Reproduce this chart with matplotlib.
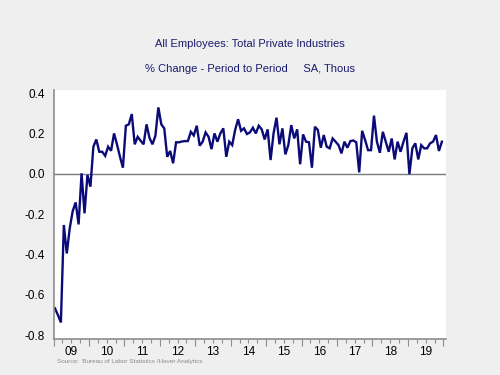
import matplotlib
matplotlib.use("Agg")
import matplotlib.pyplot as plt
import numpy as np
from matplotlib.ticker import FixedLocator, FixedFormatter, NullFormatter

plt.rcParams['font.family'] = ['Liberation Sans', 'DejaVu Sans']

# monthly % change, Jan 2009 .. Dec 2019
pct_change = [
    -0.667, -0.700, -0.737, -0.254, -0.395, -0.270, -0.185, -0.142, -0.251, 0.002, -0.196, -0.006,
    -0.064, 0.134, 0.170, 0.109, 0.109, 0.089, 0.134, 0.114, 0.200, 0.145, 0.085, 0.030,
    0.238, 0.245, 0.296, 0.146, 0.183, 0.164, 0.146, 0.245, 0.178, 0.146, 0.188, 0.329,
    0.245, 0.225, 0.084, 0.113, 0.052, 0.156, 0.156, 0.160, 0.162, 0.162, 0.208, 0.190,
    0.238, 0.139, 0.159, 0.205, 0.183, 0.122, 0.200, 0.159, 0.200, 0.225, 0.084, 0.159,
    0.142, 0.217, 0.270, 0.213, 0.225, 0.197, 0.205, 0.228, 0.200, 0.238, 0.220, 0.170,
    0.220, 0.068, 0.200, 0.278, 0.146, 0.225, 0.096, 0.142, 0.241, 0.175, 0.220, 0.047,
    0.195, 0.159, 0.156, 0.030, 0.233, 0.217, 0.129, 0.192, 0.134, 0.126, 0.175, 0.159,
    0.142, 0.101, 0.159, 0.129, 0.162, 0.165, 0.156, 0.007, 0.213, 0.167, 0.117, 0.117,
    0.288, 0.159, 0.104, 0.208, 0.159, 0.109, 0.175, 0.071, 0.159, 0.109, 0.159, 0.203,
    -0.002, 0.126, 0.151, 0.071, 0.142, 0.126, 0.126, 0.151, 0.159, 0.192, 0.113, 0.159,
]
start_year = 2009
years = list(range(2009, 2020))
year_labels = ['09', '10', '11', '12', '13', '14', '15', '16', '17', '18', '19']
y_ticks = [-0.8, -0.6, -0.4, -0.2, 0.0, 0.2, 0.4]
y_labels = ['-0.8', '-0.6', '-0.4', '-0.2', '0.0', '0.2', '0.4']

title1 = "All Employees: Total Private Industries"
title2 = "% Change - Period to Period     SA, Thous"
source = "Source:  Bureau of Labor Statistics /Haver Analytics"

t = start_year + (np.arange(len(pct_change)) + 0.5) / 12.0

fig = plt.figure(figsize=(5, 3.75), dpi=100, facecolor='#efefef')
ax = fig.add_axes([0.107, 0.097, 0.784, 0.664])
ax.set_facecolor('white')

ax.axhline(0, color='#7a7a7a', lw=1.0, zorder=1)
ax.plot(t, pct_change, color='#0b0b78', lw=1.7, zorder=2, solid_joinstyle='miter')

ax.set_xlim(2009.0, 2020.06)
ax.set_ylim(-0.817, 0.417)

for s in ['top', 'right']:
    ax.spines[s].set_visible(False)
for s in ['left', 'bottom']:
    ax.spines[s].set_color('#8c8c8c')
    ax.spines[s].set_linewidth(1.2)

ax.set_yticks(y_ticks)
ax.set_yticklabels(y_labels)
ax.tick_params(axis='y', length=0, pad=6, labelsize=8.5, labelcolor='black')

# x: major ticks at year boundaries, minor at quarters, labels at mid-year
major = [y for y in years] + [2020]
ax.xaxis.set_major_locator(FixedLocator(major))
ax.xaxis.set_major_formatter(NullFormatter())
minor_pos = []
minor_lab = []
for y, lab in zip(years, year_labels):
    for q, name in ((0.25, ''), (0.5, lab), (0.75, '')):
        minor_pos.append(y + q)
        minor_lab.append(name)
ax.xaxis.set_minor_locator(FixedLocator(minor_pos))
ax.xaxis.set_minor_formatter(FixedFormatter(minor_lab))
ax.tick_params(axis='x', which='major', length=5, width=0.8, color='#8c8c8c', direction='out')
ax.tick_params(axis='x', which='minor', length=3, width=0.8, color='#8c8c8c', direction='out',
               labelsize=8.5, labelcolor='black', pad=2)

fig.text(0.5, 0.883, title1, ha='center', va='center', color='#1a1a6e', fontsize=8.0)
fig.text(0.5, 0.817, title2, ha='center', va='center', color='#1a1a6e', fontsize=8.0)
fig.text(0.114, 0.037, source, ha='left', va='center', color='#8a8a8a', fontsize=4.6)

fig.savefig('out.png', dpi=100, facecolor=fig.get_facecolor())
